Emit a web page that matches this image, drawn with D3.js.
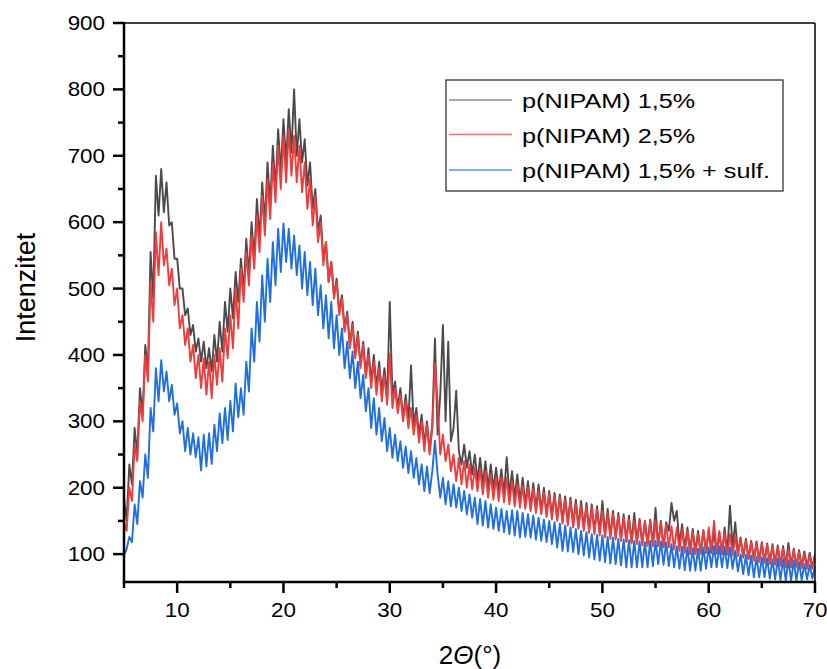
<!DOCTYPE html>
<html>
<head>
<meta charset="utf-8">
<script src="https://cdn.jsdelivr.net/npm/d3@7"></script>
<style>
  body { margin: 0; background: #fff; }
  svg { display: block; font-family: "Liberation Sans", Arial, sans-serif; }
</style>
</head>
<body>
<svg id="chart" width="827" height="669"></svg>
<script>
"use strict";
// 2theta grid, 0.25 deg steps from 5 to 70
var twoTheta = d3.range(0, 261).map(function(i){ return 5 + i * 0.25; });

// p(NIPAM) 1,5%  (one row per degree: x.00, x.25, x.50, x.75)
var nipam15 = [
  185, 150, 235, 205,  290, 250, 350, 310,  415, 375, 555, 485,  670, 610, 680, 615,
  660, 595, 600, 545,  545, 500, 500, 460,  470, 430, 445, 405,  425, 390, 420, 380,
  410, 375, 430, 390,  450, 405, 480, 435,  500, 455, 525, 480,  545, 495, 575, 520,
  600, 545, 635, 575,  660, 600, 690, 625,  715, 650, 740, 675,  755, 690, 770, 705,
  800, 700, 755, 690,  725, 655, 690, 620,  650, 585, 610, 545,  570, 510, 540, 490,
  515, 465, 490, 440,  465, 415, 450, 400,  435, 385, 420, 370,  410, 360, 400, 350,
  390, 345, 380, 335,  480, 340, 360, 320,  350, 305, 340, 300,  384, 295, 320, 280,
  310, 265, 300, 255,  295, 425, 280, 340,  445, 300, 420, 270,  290, 346, 255, 235,
  265, 230, 255, 220,  250, 210, 245, 205,  240, 200, 235, 198,  230, 195, 228, 190,
  246, 190, 225, 185,  220, 180, 215, 175,  210, 170, 207, 168,  205, 165, 200, 160,
  195, 158, 192, 153,  190, 150, 187, 148,  185, 145, 182, 142,  180, 140, 177, 137,
  175, 135, 172, 133,  180, 130, 168, 128,  165, 125, 162, 122,  160, 120, 158, 118,
  162, 118, 153, 116,  150, 115, 152, 113,  170, 112, 150, 110,  148, 135, 177, 150,
  165, 115, 145, 108,  140, 105, 138, 103,  135, 102, 136, 102,  135, 102, 134, 101,
  132, 100, 140, 100,  173, 110, 148, 100,  125, 95, 123, 93,    120, 92, 119, 90,
  118, 88, 116, 86,    115, 85, 113, 83,    112, 82, 117, 82,    108, 82, 106, 81,
  104, 80, 102, 80,    100
];

// p(NIPAM) 2,5%
var nipam25 = [
  150, 135, 200, 180,  265, 240, 330, 300,  400, 360, 510, 450,  585, 520, 600, 535,
  560, 505, 530, 475,  500, 440, 460, 415,  440, 390, 415, 365,  400, 350, 395, 340,
  390, 335, 400, 355,  410, 360, 440, 395,  460, 410, 500, 440,  530, 480, 555, 505,
  580, 530, 610, 555,  640, 580, 665, 605,  690, 630, 715, 650,  730, 660, 740, 670,
  730, 660, 715, 645,  690, 620, 665, 595,  640, 570, 600, 535,  570, 510, 540, 485,
  510, 460, 485, 435,  460, 410, 445, 395,  430, 380, 415, 365,  400, 350, 390, 340,
  380, 330, 370, 325,  402, 320, 350, 312,  340, 300, 330, 290,  320, 280, 310, 268,
  300, 255, 295, 250,  290, 387, 330, 250,  280, 240, 265, 225,  250, 210, 245, 205,
  240, 200, 235, 198,  230, 195, 228, 190,  225, 185, 220, 182,  215, 180, 216, 178,
  215, 175, 210, 172,  205, 170, 203, 168,  200, 165, 198, 162,  195, 160, 192, 156,
  190, 152, 188, 150,  185, 146, 182, 143,  180, 140, 176, 138,  172, 135, 171, 132,
  170, 130, 167, 128,  165, 125, 162, 123,  160, 122, 158, 120,  155, 118, 152, 116,
  150, 115, 151, 113,  150, 112, 149, 112,  150, 112, 147, 111,  145, 110, 142, 107,
  140, 105, 137, 102,  135, 100, 133, 100,  130, 100, 136, 103,  140, 105, 150, 103,
  135, 100, 132, 99,   130, 98, 127, 97,    123, 97, 120, 93,    118, 90, 117, 88,
  116, 86, 114, 85,    112, 84, 110, 82,    108, 80, 107, 80,    106, 80, 103, 79,
  100, 78, 98, 78,     97
];

// p(NIPAM) 1,5% + sulf.
var nipamSulf = [
  98, 108, 126, 118,   175, 145, 210, 185,  250, 215, 320, 285,  380, 330, 392, 345,
  375, 330, 355, 310,  327, 282, 300, 255,  290, 250, 282, 246,  276, 226, 280, 232,
  282, 236, 295, 255,  312, 267, 320, 272,  331, 285, 357, 306,  350, 310, 390, 345,
  440, 390, 480, 420,  520, 450, 545, 480,  570, 505, 590, 525,  598, 540, 590, 530,
  580, 520, 565, 500,  555, 490, 540, 475,  530, 460, 505, 440,  490, 425, 480, 410,
  460, 400, 440, 380,  420, 365, 405, 350,  390, 335, 370, 315,  350, 290, 335, 280,
  320, 270, 305, 255,  290, 245, 280, 240,  270, 230, 262, 222,  255, 215, 245, 205,
  235, 195, 232, 192,  225, 271, 220, 185,  215, 175, 210, 172,  205, 170, 200, 165,
  195, 160, 190, 155,  185, 145, 183, 143,  180, 140, 175, 138,  170, 135, 168, 133,
  165, 130, 166, 128,  165, 125, 162, 126,  160, 125, 158, 122,  155, 120, 152, 118,
  150, 115, 148, 110,  146, 105, 143, 104,  140, 103, 138, 100,  135, 98, 133, 95,
  130, 92, 129, 90,    128, 88, 126, 86,    125, 85, 123, 83,    122, 80, 121, 80,
  120, 80, 119, 80,    118, 80, 120, 82,    120, 85, 119, 84,    118, 82, 115, 80,
  112, 78, 111, 76,    110, 75, 109, 75,    108, 75, 110, 78,    110, 80, 112, 80,
  112, 80, 111, 79,    110, 78, 105, 74,    100, 70, 99, 68,     98, 65, 96, 65,
  95, 65, 94, 63,      92, 62, 93, 61,      92, 60, 91, 60,      90, 60, 88, 61,
  85, 62, 84, 63,      82
];

var seriesNames = ["p(NIPAM) 1,5%", "p(NIPAM) 2,5%", "p(NIPAM) 1,5% + sulf."];
var seriesColors = ["#4b4b4b", "#f03c3c", "#1f6fe0"];
var legendColors = ["#8a8a8a", "#f26a6a", "#5b95e8"];
var seriesData = [nipam15, nipam25, nipamSulf];

var xTicks = [10, 20, 30, 40, 50, 60, 70];
var xMinor = [5, 15, 25, 35, 45, 55, 65];
var yTicks = [100, 200, 300, 400, 500, 600, 700, 800, 900];
var yMinor = [150, 250, 350, 450, 550, 650, 750, 850];

var svg = d3.select("#chart");
var plot = {left: 124, right: 815, top: 23, bottom: 582};

var x = d3.scaleLinear().domain([5, 70]).range([plot.left, plot.right]);
var y = d3.scaleLinear().domain([58, 900]).range([plot.bottom, plot.top]);

svg.append("clipPath").attr("id", "plotClip")
  .append("rect")
  .attr("x", plot.left).attr("y", plot.top)
  .attr("width", plot.right - plot.left).attr("height", plot.bottom - plot.top);

//draw the three patterns, black first so red and blue sit on top
var line = d3.line()
  .x(function(d, i){ return x(twoTheta[i]); })
  .y(function(d){ return y(d); });

var curves = svg.append("g").attr("clip-path", "url(#plotClip)");
seriesData.forEach(function(vals, k){
  curves.append("path")
    .datum(vals)
    .attr("d", line)
    .attr("fill", "none")
    .attr("stroke", seriesColors[k])
    .attr("stroke-width", 1.9)
    .attr("stroke-linejoin", "round");
});

//frame: thin top/right, heavier left/bottom
svg.append("line").attr("x1", plot.left).attr("x2", plot.right)
  .attr("y1", plot.top).attr("y2", plot.top)
  .attr("stroke", "#000").attr("stroke-width", 1.5);
svg.append("line").attr("x1", plot.right).attr("x2", plot.right)
  .attr("y1", plot.top).attr("y2", plot.bottom)
  .attr("stroke", "#000").attr("stroke-width", 1.5);

var axes = svg.append("g").attr("stroke", "#000").attr("stroke-width", 2.5);
axes.append("line").attr("x1", plot.left).attr("x2", plot.left)
  .attr("y1", plot.top - 1).attr("y2", plot.bottom + 1);
axes.append("line").attr("x1", plot.left - 1).attr("x2", plot.right + 1)
  .attr("y1", plot.bottom).attr("y2", plot.bottom);

axes.selectAll(".yMaj").data(yTicks).enter().append("line")
  .attr("x1", plot.left - 11).attr("x2", plot.left)
  .attr("y1", function(d){ return y(d); }).attr("y2", function(d){ return y(d); });
axes.selectAll(".yMin").data(yMinor).enter().append("line")
  .attr("x1", plot.left - 6).attr("x2", plot.left)
  .attr("y1", function(d){ return y(d); }).attr("y2", function(d){ return y(d); });
axes.selectAll(".xMaj").data(xTicks).enter().append("line")
  .attr("x1", function(d){ return x(d); }).attr("x2", function(d){ return x(d); })
  .attr("y1", plot.bottom).attr("y2", plot.bottom + 11);
axes.selectAll(".xMin").data(xMinor).enter().append("line")
  .attr("x1", function(d){ return x(d); }).attr("x2", function(d){ return x(d); })
  .attr("y1", plot.bottom).attr("y2", plot.bottom + 6);

svg.selectAll(".yLab").data(yTicks).enter().append("text")
  .attr("transform", function(d){ return "translate(" + (plot.left - 19) + "," + (y(d) + 7) + ") scale(1.12,1)"; })
  .attr("text-anchor", "end")
  .attr("font-size", 20)
  .attr("fill", "#000")
  .text(function(d){ return d; });

svg.selectAll(".xLab").data(xTicks).enter().append("text")
  .attr("transform", function(d){ return "translate(" + x(d) + ",617) scale(1.12,1)"; })
  .attr("text-anchor", "middle")
  .attr("font-size", 20)
  .attr("fill", "#000")
  .text(function(d){ return d; });

//axis titles
svg.append("text")
  .attr("transform", "translate(35," + ((230 + 345) / 2) + ") rotate(-90)")
  .attr("text-anchor", "middle")
  .attr("font-size", 27)
  .attr("fill", "#000")
  .text("Intenzitet");

var xTitle = svg.append("text")
  .attr("x", 470).attr("y", 664)
  .attr("text-anchor", "middle")
  .attr("font-size", 26)
  .attr("fill", "#000");
xTitle.append("tspan").text("2");
xTitle.append("tspan").attr("font-style", "italic").text("\u0398");
xTitle.append("tspan").text("(°)");

//legend
var legend = svg.append("g");
legend.append("rect")
  .attr("x", 446).attr("y", 80).attr("width", 337).attr("height", 111)
  .attr("fill", "#fff").attr("stroke", "#333").attr("stroke-width", 1.3);
var legendRowY = [100, 134.5, 170];
seriesNames.forEach(function(name, k){
  legend.append("line")
    .attr("x1", 449).attr("x2", 512)
    .attr("y1", legendRowY[k]).attr("y2", legendRowY[k])
    .attr("stroke", legendColors[k]).attr("stroke-width", 1.5);
  legend.append("text")
    .attr("transform", "translate(522," + (legendRowY[k] + 8) + ") scale(1.2,1)")
    .attr("font-size", 21)
    .attr("fill", "#000")
    .text(name);
});
</script>
</body>
</html>
